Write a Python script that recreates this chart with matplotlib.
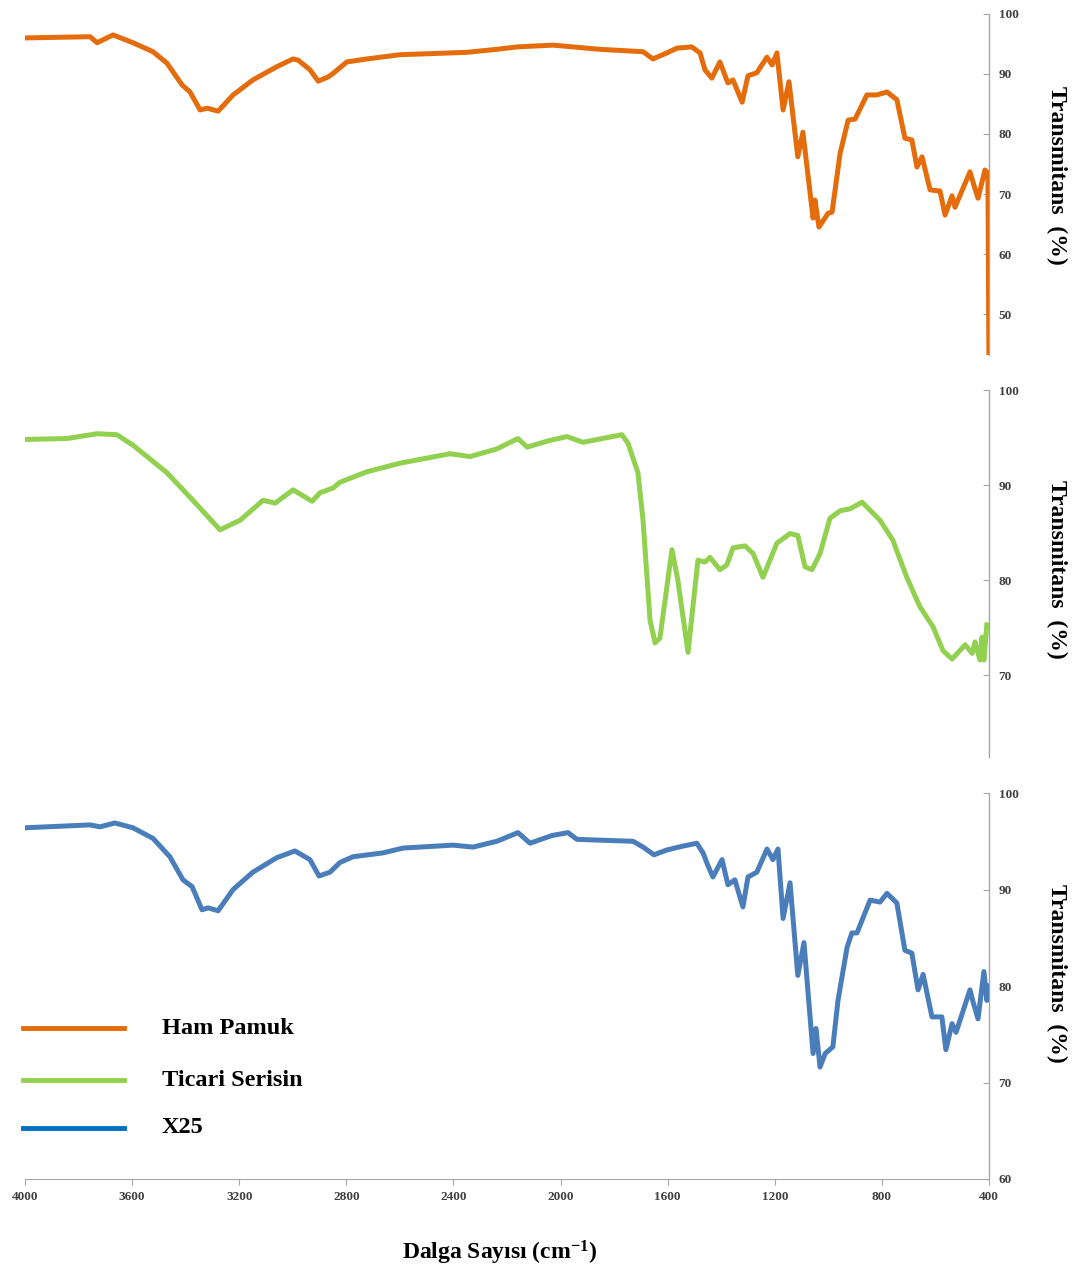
import matplotlib
matplotlib.use("Agg")
import matplotlib.pyplot as plt
from matplotlib.lines import Line2D

plt.rcParams['font.family'] = ['Liberation Serif', 'DejaVu Serif']
plt.rcParams['font.weight'] = 'bold'
plt.rcParams['mathtext.fontset'] = 'custom'
plt.rcParams['mathtext.rm'] = 'Liberation Serif:bold'
plt.rcParams['mathtext.bf'] = 'Liberation Serif:bold'
plt.rcParams['mathtext.default'] = 'bf'

# Ham Pamuk (orange)
wn_ham = [4000, 3757, 3731, 3671, 3597, 3522, 3470, 3414, 3384, 3346, 3320, 3279, 3223, 3149,
          3060, 2999, 2980, 2936, 2905, 2868, 2849, 2798, 2723, 2600, 2350, 2238, 2163, 2028,
          1853, 1692, 1655, 1603, 1565, 1510, 1479, 1461, 1435, 1405, 1375, 1356, 1322, 1300,
          1267, 1229, 1210, 1192, 1169, 1147, 1114, 1095, 1057, 1050, 1035, 1001, 986, 956,
          926, 900, 856, 819, 781, 744, 714, 688, 669, 650, 620, 583, 564, 538, 527, 471,
          460, 441, 415, 404, 400]
t_ham = [96.0, 96.2, 95.2, 96.5, 95.2, 93.7, 91.8, 88.2, 87.0, 84.0, 84.3, 83.8, 86.5, 89.0,
         91.2, 92.5, 92.3, 90.7, 88.8, 89.5, 90.1, 92.0, 92.5, 93.2, 93.6, 94.1, 94.5, 94.8,
         94.1, 93.7, 92.5, 93.5, 94.3, 94.5, 93.5, 90.7, 89.3, 92.0, 88.5, 89.0, 85.3, 89.7,
         90.2, 92.8, 91.5, 93.5, 84.0, 88.7, 76.2, 80.3, 66.0, 69.0, 64.5, 66.8, 67.0, 76.8,
         82.3, 82.5, 86.5, 86.5, 87.0, 85.7, 79.3, 79.0, 74.5, 76.2, 70.7, 70.5, 66.5, 69.7,
         67.8, 73.7, 72.0, 69.3, 74.0, 73.5, 40.0]

# Ticari Serisin (green)
wn_ser = [4000, 3843, 3731, 3657, 3597, 3470, 3373, 3272, 3197, 3111, 3066, 2999, 2928, 2898,
          2849, 2824, 2723, 2600, 2413, 2338, 2238, 2159, 2125, 2040, 1976, 1916, 1771, 1748,
          1711, 1692, 1666, 1647, 1629, 1584, 1562, 1524, 1487, 1461, 1442, 1405, 1379, 1356,
          1311, 1281, 1244, 1192, 1143, 1114, 1087, 1061, 1031, 994, 956, 919, 874, 807, 759,
          707, 658, 609, 572, 538, 489, 463, 452, 434, 426, 419, 408]
t_ser = [94.8, 94.9, 95.4, 95.3, 94.2, 91.3, 88.4, 85.3, 86.3, 88.4, 88.1, 89.5, 88.3, 89.2,
         89.7, 90.3, 91.4, 92.3, 93.3, 93.0, 93.8, 94.9, 94.0, 94.7, 95.1, 94.5, 95.3, 94.4,
         91.3, 86.3, 75.8, 73.4, 73.9, 83.2, 80.0, 72.4, 82.1, 81.9, 82.4, 81.1, 81.6, 83.4,
         83.6, 82.8, 80.3, 83.9, 84.9, 84.7, 81.4, 81.1, 82.8, 86.5, 87.3, 87.5, 88.2, 86.3,
         84.2, 80.3, 77.2, 75.1, 72.6, 71.7, 73.2, 72.3, 73.5, 71.6, 74.0, 71.6, 75.3]

# X25 (blue)
wn_x25 = [4000, 3757, 3720, 3664, 3597, 3522, 3459, 3410, 3376, 3339, 3316, 3279, 3223, 3149,
          3060, 2992, 2936, 2902, 2861, 2824, 2775, 2663, 2588, 2402, 2327, 2238, 2159, 2114,
          2032, 1972, 1939, 1729, 1692, 1651, 1603, 1543, 1491, 1468, 1450, 1431, 1397, 1375,
          1349, 1319, 1300, 1267, 1229, 1207, 1188, 1169, 1143, 1114, 1091, 1057, 1046, 1031,
          1012, 983, 964, 930, 912, 893, 844, 807, 781, 744, 714, 688, 665, 646, 613, 576,
          561, 538, 523, 471, 460, 441, 419, 408, 400]
t_x25 = [96.4, 96.7, 96.5, 96.9, 96.4, 95.3, 93.4, 91.0, 90.3, 87.9, 88.1, 87.8, 90.0, 91.8,
         93.3, 94.0, 93.1, 91.4, 91.8, 92.8, 93.4, 93.8, 94.3, 94.6, 94.4, 95.0, 95.9, 94.8,
         95.6, 95.9, 95.2, 95.0, 94.4, 93.6, 94.1, 94.5, 94.8, 93.8, 92.5, 91.3, 93.1, 90.5,
         91.0, 88.2, 91.3, 91.8, 94.2, 93.1, 94.2, 87.0, 90.7, 81.1, 84.5, 73.0, 75.6, 71.6,
         73.0, 73.7, 78.5, 84.0, 85.5, 85.5, 88.9, 88.7, 89.6, 88.6, 83.7, 83.4, 79.6, 81.2,
         76.8, 76.8, 73.4, 76.1, 75.2, 79.6, 78.4, 76.6, 81.5, 78.5, 80.0]

names = ['Ham Pamuk', 'Ticari Serisin', 'X25']
line_colors = ['#E46C0A', '#92D050', '#4A7EBB']
legend_colors = ['#E46C0A', '#92D050', '#0070C0']
x_ticks = [4000, 3600, 3200, 2800, 2400, 2000, 1600, 1200, 800, 400]

fig = plt.figure(figsize=(10.83, 12.75), dpi=100)
spine_gray = '#A6A6A6'

panels = [
    ([0.0231, 0.7216, 0.8901, 0.2675], wn_ham, t_ham, (43.2, 100), [50, 60, 70, 80, 90, 100], 0.528),
    ([0.0231, 0.4063, 0.8901, 0.2878], wn_ser, t_ser, (61.4, 100), [70, 80, 90, 100], 0.512),
    ([0.0231, 0.0753, 0.8901, 0.3027], wn_x25, t_x25, (60, 100), [60, 70, 80, 90, 100], 0.534),
]

axes = []
for i, (rect, wn, tt, ylim, yt, lab_y) in enumerate(panels):
    ax = fig.add_axes(rect)
    ax.plot(wn, tt, color=line_colors[i], lw=3.6, solid_joinstyle='round', zorder=3)
    ax.set_xlim(4000, 400)
    ax.set_ylim(*ylim)
    ax.set_yticks(yt)
    ax.yaxis.tick_right()
    ax.tick_params(axis='y', direction='in', length=4, color=spine_gray, pad=7,
                   labelsize=9.5, labelcolor='#404040')
    for lab in ax.get_yticklabels():
        lab.set_fontweight('bold')
    for s in ['top', 'left']:
        ax.spines[s].set_visible(False)
    ax.spines['right'].set_color(spine_gray)
    ax.spines['right'].set_linewidth(1.0)
    if i < 2:
        ax.spines['bottom'].set_visible(False)
        ax.set_xticks([])
    else:
        ax.spines['bottom'].set_color(spine_gray)
        ax.set_xticks(x_ticks)
        ax.tick_params(axis='x', direction='out', length=4, color=spine_gray, pad=5,
                       labelsize=9.5, labelcolor='#404040')
        for lab in ax.get_xticklabels():
            lab.set_fontweight('bold')
    ax.text(1.0705, lab_y, 'Transmitans  (%)', rotation=-90, fontsize=17, fontweight='bold',
            ha='center', va='center', transform=ax.transAxes)
    ax.patch.set_alpha(0)
    axes.append(ax)

fig.text(0.4617, 0.0173, 'Dalga Sayısı (cm$^{-1}$)', fontsize=17, fontweight='bold',
         ha='center', va='center')

# legend drawn in figure coordinates
leg_y = [0.1937, 0.1529, 0.1153]
for name, c, y in zip(names, legend_colors, leg_y):
    fig.add_artist(Line2D([0.0212, 0.1145], [y, y], color=c, lw=3.5, transform=fig.transFigure))
    fig.text(0.1496, y, name, fontsize=17.5, fontweight='bold', va='center', ha='left')

fig.savefig('out.png', dpi=100)
